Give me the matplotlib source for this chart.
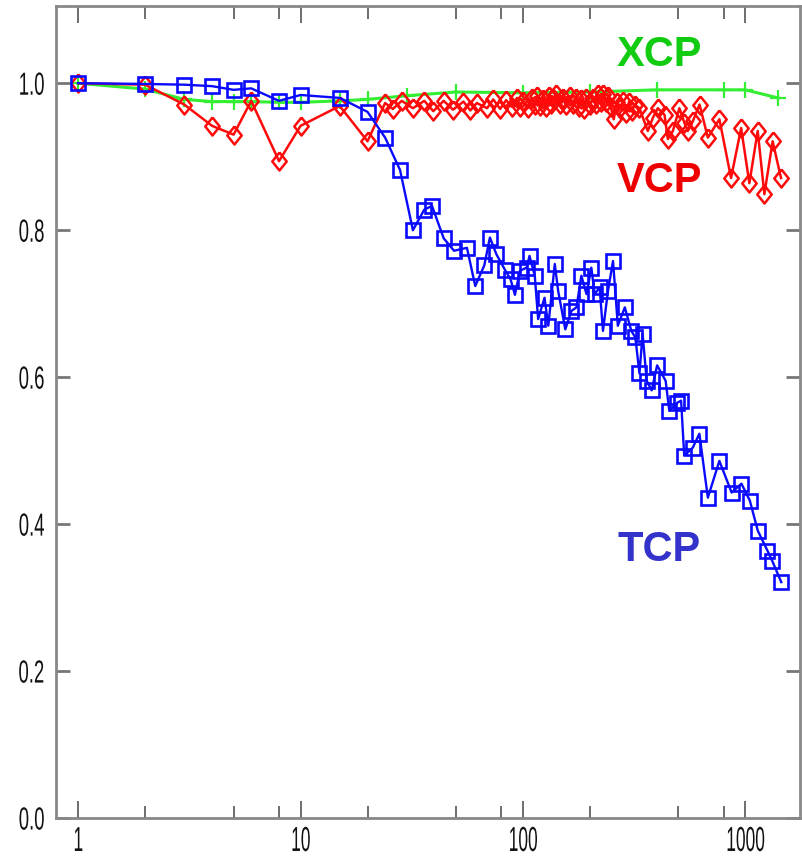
import matplotlib
matplotlib.use("Agg")
import matplotlib.pyplot as plt
from matplotlib.ticker import FixedLocator, NullFormatter
from matplotlib.patheffects import AbstractPathEffect
from matplotlib.transforms import Affine2D

# ================= DATA =================
xcp_x = [1, 2, 3, 4, 5, 6, 8, 10, 15, 20, 30, 50, 100, 200, 400, 800, 1000, 1400]
xcp_y = [1.0, 0.992, 0.978, 0.975, 0.975, 0.975, 0.974, 0.974, 0.976, 0.978,
         0.983, 0.988, 0.987, 0.988, 0.991, 0.991, 0.991, 0.980]

vcp_x = [1, 2, 3, 4, 5, 6, 8, 10, 15, 20, 24, 26, 28.5, 32, 36, 39.5, 44, 48.5,
         54, 58, 62, 69, 73.5, 79, 84, 89, 94, 97, 100, 105, 110, 113, 116, 119,
         123, 127, 131, 134, 137, 141, 146, 151, 156, 162, 168, 174, 178, 183,
         188, 193, 200, 207, 212, 218, 224, 229, 235, 241, 248, 256, 264, 272,
         282, 292, 300, 308, 318, 334, 364, 384, 404, 433, 448, 472, 505, 532,
         551, 580, 622, 678, 764, 862, 957, 1042, 1136, 1217, 1326, 1446]
vcp_y = [1.0, 0.998, 0.971, 0.942, 0.930, 0.976, 0.894, 0.942, 0.969, 0.921,
         0.973, 0.965, 0.976, 0.966, 0.976, 0.962, 0.976, 0.964, 0.975, 0.963,
         0.973, 0.966, 0.978, 0.965, 0.977, 0.968, 0.980, 0.968, 0.976, 0.966,
         0.980, 0.970, 0.982, 0.969, 0.978, 0.968, 0.983, 0.972, 0.980, 0.985,
         0.972, 0.980, 0.970, 0.982, 0.972, 0.980, 0.968, 0.978, 0.965, 0.980,
         0.970, 0.980, 0.972, 0.985, 0.974, 0.985, 0.975, 0.982, 0.968, 0.951,
         0.975, 0.966, 0.976, 0.960, 0.975, 0.962, 0.971, 0.966, 0.935, 0.953,
         0.966, 0.957, 0.924, 0.935, 0.966, 0.946, 0.935, 0.948, 0.971, 0.926,
         0.951, 0.871, 0.939, 0.864, 0.935, 0.849, 0.921, 0.871]

tcp_x = [1, 2, 3, 4, 5, 6, 8, 10, 15, 20, 24, 28, 32, 36, 39, 44, 49, 56, 61, 67,
         71, 76, 83, 88, 92, 97, 104, 107, 113, 117, 125, 130, 139, 144, 155, 165,
         174, 183, 193, 203, 210, 221, 229, 241, 254, 267, 287, 307, 320, 334,
         345, 360, 379, 401, 438, 455, 493, 514, 531, 580, 621, 678, 764, 867,
         960, 1047, 1137, 1256, 1320, 1450]
tcp_y = [1.0, 0.999, 0.998, 0.996, 0.991, 0.993, 0.976, 0.984, 0.980, 0.961,
         0.926, 0.882, 0.800, 0.828, 0.833, 0.789, 0.772, 0.776, 0.724, 0.752,
         0.790, 0.767, 0.746, 0.733, 0.712, 0.745, 0.749, 0.765, 0.738, 0.679,
         0.708, 0.670, 0.754, 0.717, 0.665, 0.690, 0.695, 0.738, 0.713, 0.749,
         0.713, 0.722, 0.663, 0.717, 0.758, 0.670, 0.695, 0.663, 0.654, 0.605,
         0.659, 0.595, 0.582, 0.616, 0.595, 0.554, 0.565, 0.568, 0.493, 0.504,
         0.523, 0.436, 0.486, 0.443, 0.455, 0.432, 0.391, 0.364, 0.350, 0.321]

x_major = [1, 10, 100, 1000]
x_minor = [2, 5, 8, 20, 50, 80, 200, 500, 800]
y_ticks = [0.0, 0.2, 0.4, 0.6, 0.8, 1.0]


# squeeze glyphs horizontally (the original labels use a narrow font)
class Squeeze(AbstractPathEffect):
    def __init__(self, sx, anchor="center"):
        super().__init__()
        self.sx = sx
        self.anchor = anchor

    def draw_path(self, renderer, gc, tpath, affine, rgbFace=None):
        ext = tpath.get_extents()
        x0 = ext.x1 if self.anchor == "right" else (ext.x0 + ext.x1) / 2
        t = Affine2D().translate(-x0, 0).scale(self.sx, 1).translate(x0, 0)
        renderer.draw_path(gc, tpath, t + affine, rgbFace)


# ================= PLOT =================
fig = plt.figure(figsize=(8.02, 8.66), dpi=100)
ax = fig.add_axes([0.0698, 0.0554, 0.9277, 0.9376])

diamond = [(0, 1), (0.8, 0), (0, -1), (-0.8, 0), (0, 1)]

ax.plot(xcp_x, xcp_y, color="#33ee33", lw=2.2, marker="+", ms=12, mew=1.6, zorder=2)
ax.plot(vcp_x, vcp_y, color="#ff0a0a", lw=1.8, marker=diamond, ms=13, mfc="none",
        mew=1.8, zorder=3)
ax.plot(tcp_x, tcp_y, color="#0a0aff", lw=1.7, marker="s", ms=10, mfc="none",
        mew=1.9, zorder=4)

ax.set_xscale("log")
ax.set_xlim(0.795, 1760)
ax.set_ylim(0.0, 1.105)

ax.xaxis.set_major_locator(FixedLocator(x_major))
ax.xaxis.set_minor_locator(FixedLocator(x_minor))
ax.xaxis.set_minor_formatter(NullFormatter())
ax.set_xticklabels([str(v) for v in x_major])
ax.set_yticks(y_ticks)
ax.set_yticklabels([f"{v:.1f}" for v in y_ticks])

for lab in ax.get_xticklabels():
    lab.set_family("Liberation Sans")
    lab.set_fontsize(25)
    lab.set_color("#111111")
    lab.set_path_effects([Squeeze(0.5, "center")])
for lab in ax.get_yticklabels():
    lab.set_family("Liberation Sans")
    lab.set_fontsize(23)
    lab.set_color("#111111")
    lab.set_path_effects([Squeeze(0.58, "right")])

ax.tick_params(which="both", direction="in", top=True, right=True,
               color="#555555", width=1.2)
ax.tick_params(axis="x", which="major", length=12, pad=5)
ax.tick_params(axis="x", which="minor", length=9)
ax.tick_params(axis="y", which="major", length=10, pad=8, width=2, color="#777777")

for sp in ax.spines.values():
    sp.set_color("#888888")
    sp.set_linewidth(2)

# series labels
ax.text(411, 1.039, "XCP", color="#11cc11", fontsize=30, fontweight="bold",
        family="Liberation Sans", ha="center", va="center")
ax.text(411, 0.867, "VCP", color="#ee0000", fontsize=30, fontweight="bold",
        family="Liberation Sans", ha="center", va="center")
ax.text(411, 0.365, "TCP", color="#3333cc", fontsize=30, fontweight="bold",
        family="Liberation Sans", ha="center", va="center")

fig.savefig("out.png", dpi=100)
